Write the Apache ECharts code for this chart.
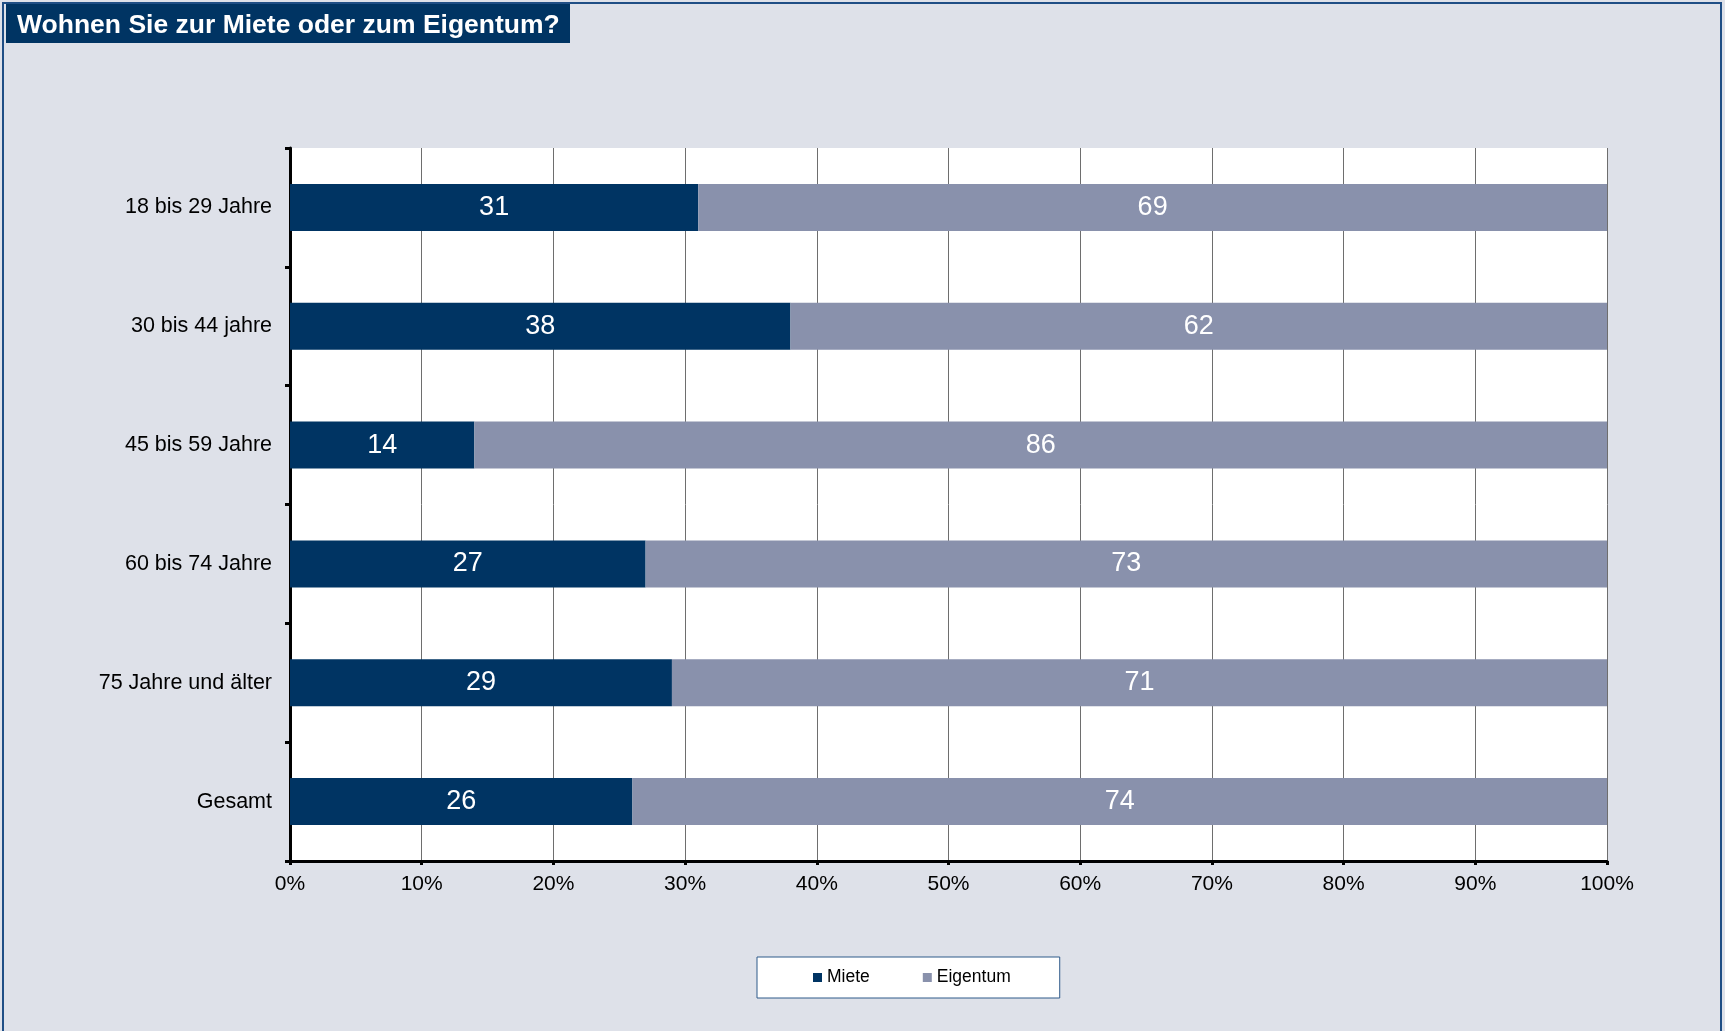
<!DOCTYPE html>
<html>
<head>
<meta charset="utf-8">
<script src="https://cdn.jsdelivr.net/npm/echarts@6/dist/echarts.min.js"></script>
<style>
  html, body { margin: 0; padding: 0; background: #dee1e9; }
  #chart { width: 1725px; height: 1031px; }
</style>
</head>
<body>
<div id="chart"></div>
<script>
    // Werte
    var categories = ['18 bis 29 Jahre', '30 bis 44 jahre', '45 bis 59 Jahre', '60 bis 74 Jahre', '75 Jahre und älter', 'Gesamt'];
    var miete = [31, 38, 14, 27, 29, 26];
    var eigentum = [69, 62, 86, 73, 71, 74];
    var xTicks = [0, 10, 20, 30, 40, 50, 60, 70, 80, 90, 100];

    var fontFamily = '"Liberation Sans", Arial, sans-serif';
    var myChart = echarts.init(document.getElementById('chart'));

    var barLabel = {
        show: true,
        position: 'inside',
        color: '#fff',
        fontSize: 27,
        fontFamily: fontFamily
    };

    myChart.setOption({
        backgroundColor: '#dee1e9',
        animation: false,
        graphic: [
            {
                // Rahmen
                type: 'rect',
                shape: { x: 3, y: 3, width: 1718, height: 1040 },
                style: { fill: 'none', stroke: '#1f4e85', lineWidth: 2 },
                silent: true
            },
            {
                type: 'rect',
                shape: { x: 6, y: 4, width: 564, height: 39 },
                style: { fill: '#003463' },
                silent: true
            },
            {
                type: 'text',
                left: 17,
                top: 12,
                style: {
                    text: 'Wohnen Sie zur Miete oder zum Eigentum?',
                    fill: '#fff',
                    font: 'bold 26.5px ' + fontFamily
                },
                silent: true
            }
        ],
        legend: {
            left: 757,
            top: 957,
            padding: [11, 49, 11, 56],
            itemWidth: 9,
            itemHeight: 9,
            itemGap: 53,
            icon: 'rect',
            backgroundColor: '#fff',
            borderColor: '#2f5a8a',
            borderWidth: 1,
            textStyle: { fontSize: 17.5, fontFamily: fontFamily, color: '#000', lineHeight: 19 },
            data: ['Miete', 'Eigentum']
        },
        grid: {
            left: 290,
            right: 118,
            top: 148,
            bottom: 170,
            show: true,
            backgroundColor: '#fff',
            borderWidth: 0
        },
        xAxis: {
            type: 'value',
            min: 0,
            max: 100,
            interval: 10,
            axisLine: { show: true, lineStyle: { color: '#000', width: 3 } },
            axisTick: { show: true, length: 4, lineStyle: { color: '#000', width: 3 } },
            axisLabel: {
                formatter: function (v) { return xTicks.indexOf(v) >= 0 ? v + '%' : ''; },
                color: '#000',
                fontSize: 21,
                fontFamily: fontFamily,
                margin: 13
            },
            splitLine: { show: true, lineStyle: { color: '#6e6e6e', width: 1 } }
        },
        yAxis: {
            type: 'category',
            inverse: true,
            data: categories,
            axisLine: { show: true, lineStyle: { color: '#000', width: 3 } },
            axisTick: { show: true, length: 5, lineStyle: { color: '#000', width: 3 } },
            axisLabel: {
                color: '#000',
                fontSize: 21.5,
                fontFamily: fontFamily,
                margin: 18
            }
        },
        series: [
            {
                name: 'Miete',
                type: 'bar',
                stack: 'total',
                barWidth: 47,
                itemStyle: { color: '#003463' },
                label: barLabel,
                data: miete
            },
            {
                name: 'Eigentum',
                type: 'bar',
                stack: 'total',
                barWidth: 47,
                itemStyle: { color: '#8991ac' },
                label: barLabel,
                data: eigentum
            }
        ]
    });
</script>
</body>
</html>
